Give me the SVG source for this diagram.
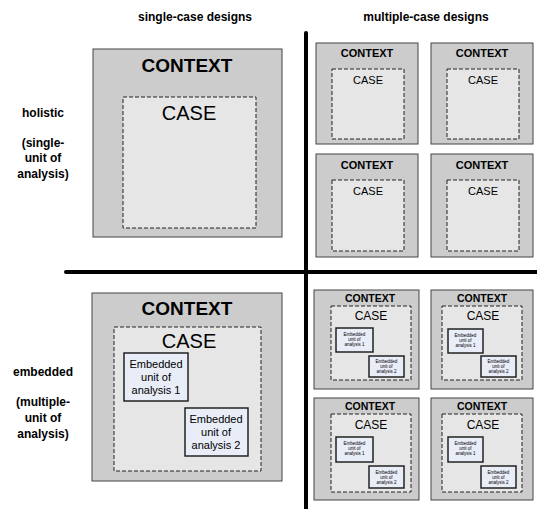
<svg xmlns="http://www.w3.org/2000/svg" width="537" height="509" viewBox="0 0 537 509">
<style>
.ctx{fill:#cccccc;stroke:#444;stroke-width:1}
.case{fill:#e6e6e6;stroke:#222;stroke-width:1;stroke-dasharray:4,2}
.emb{fill:#e8edf7;stroke:#222;stroke-width:1.5}
text{font-family:"Liberation Sans",Arial,sans-serif;text-anchor:middle;fill:#000}
.h{font-weight:bold;font-size:12px}
.bigctx{font-weight:bold;font-size:19px}
.bigcase{font-size:20px}
.sctx{font-weight:bold;font-size:11px}
.ectx{font-weight:bold;font-size:10.5px}
.scase{font-size:11px}
.ecase{font-size:12px}
.et{font-size:11px}
.est{font-size:4.5px}
</style>
<g id="headers">
<text class="h" x="195" y="21">single-case designs</text>
<text class="h" x="426" y="21">multiple-case designs</text>
</g>
<g id="row-labels">
<text class="h" x="43" y="117">holistic</text>
<text class="h" x="43" y="147">(single-</text>
<text class="h" x="43" y="162">unit of</text>
<text class="h" x="43" y="178">analysis)</text>
<text class="h" x="43" y="376">embedded</text>
<text class="h" x="43" y="406">(multiple-</text>
<text class="h" x="43" y="422">unit of</text>
<text class="h" x="43" y="438">analysis)</text>
</g>
<g id="connectors" stroke="#000" stroke-width="4" stroke-linecap="round">
<line x1="306" y1="33" x2="306" y2="509"/>
<line x1="66" y1="272" x2="537" y2="272"/>
</g>
<g id="single-holistic">
<rect class="ctx" x="93" y="49" width="189" height="188"/>
<text class="bigctx" x="187" y="72">CONTEXT</text>
<rect class="case" x="123" y="97" width="133" height="131"/>
<text class="bigcase" x="189" y="120">CASE</text>
</g>
<g id="multi-holistic-1">
<rect class="ctx" x="316" y="43" width="102" height="101"/>
<text class="sctx" x="367" y="57">CONTEXT</text>
<rect class="case" x="332" y="69" width="72" height="70"/>
<text class="scase" x="368" y="84">CASE</text>
</g>
<g id="multi-holistic-2">
<rect class="ctx" x="431" y="43" width="102" height="101"/>
<text class="sctx" x="482" y="57">CONTEXT</text>
<rect class="case" x="447" y="69" width="72" height="70"/>
<text class="scase" x="483" y="84">CASE</text>
</g>
<g id="multi-holistic-3">
<rect class="ctx" x="316" y="154" width="102" height="103"/>
<text class="sctx" x="367" y="169">CONTEXT</text>
<rect class="case" x="332" y="180" width="72" height="71"/>
<text class="scase" x="368" y="195">CASE</text>
</g>
<g id="multi-holistic-4">
<rect class="ctx" x="431" y="154" width="102" height="103"/>
<text class="sctx" x="482" y="169">CONTEXT</text>
<rect class="case" x="447" y="180" width="72" height="71"/>
<text class="scase" x="483" y="195">CASE</text>
</g>
<g id="single-embedded">
<rect class="ctx" x="92" y="293" width="190" height="188"/>
<text class="bigctx" x="187" y="315">CONTEXT</text>
<rect class="case" x="114" y="327" width="147" height="144"/>
<text class="bigcase" x="189" y="348">CASE</text>
<rect class="emb" x="124" y="353" width="64" height="48"/>
<text class="et" x="156" y="368">Embedded</text>
<text class="et" x="156" y="381">unit of</text>
<text class="et" x="156" y="394">analysis 1</text>
<rect class="emb" x="185" y="408" width="63" height="48"/>
<text class="et" x="216" y="423">Embedded</text>
<text class="et" x="216" y="436">unit of</text>
<text class="et" x="216" y="449">analysis 2</text>
</g>
<g id="multi-embedded-1">
<rect class="ctx" x="314" y="290" width="105" height="99"/>
<text class="ectx" x="370" y="302">CONTEXT</text>
<rect class="case" x="331" y="306" width="80" height="74"/>
<text class="ecase" x="371" y="320">CASE</text>
<rect class="emb" x="336" y="328" width="37" height="24"/>
<text class="est" x="354.5" y="336">Embedded</text>
<text class="est" x="354.5" y="341">unit of</text>
<text class="est" x="354.5" y="346">analysis 1</text>
<rect class="emb" x="369" y="356" width="35" height="21"/>
<text class="est" x="386.5" y="363">Embedded</text>
<text class="est" x="386.5" y="368">unit of</text>
<text class="est" x="386.5" y="373">analysis 2</text>
</g>
<g id="multi-embedded-2">
<rect class="ctx" x="431" y="290" width="102" height="99"/>
<text class="ectx" x="482" y="302">CONTEXT</text>
<rect class="case" x="442" y="306" width="80" height="74"/>
<text class="ecase" x="483" y="320">CASE</text>
<rect class="emb" x="448" y="329" width="35" height="24"/>
<text class="est" x="465.5" y="337">Embedded</text>
<text class="est" x="465.5" y="342">unit of</text>
<text class="est" x="465.5" y="347">analysis 1</text>
<rect class="emb" x="481" y="356" width="35" height="21"/>
<text class="est" x="498.5" y="363">Embedded</text>
<text class="est" x="498.5" y="368">unit of</text>
<text class="est" x="498.5" y="373">analysis 2</text>
</g>
<g id="multi-embedded-3">
<rect class="ctx" x="314" y="398" width="105" height="102"/>
<text class="ectx" x="370" y="410">CONTEXT</text>
<rect class="case" x="331" y="414" width="80" height="78"/>
<text class="ecase" x="371" y="429">CASE</text>
<rect class="emb" x="336" y="437" width="37" height="25"/>
<text class="est" x="354.5" y="445">Embedded</text>
<text class="est" x="354.5" y="450">unit of</text>
<text class="est" x="354.5" y="455">analysis 1</text>
<rect class="emb" x="369" y="466" width="35" height="22"/>
<text class="est" x="386.5" y="474">Embedded</text>
<text class="est" x="386.5" y="479">unit of</text>
<text class="est" x="386.5" y="484">analysis 2</text>
</g>
<g id="multi-embedded-4">
<rect class="ctx" x="431" y="398" width="102" height="102"/>
<text class="ectx" x="482" y="410">CONTEXT</text>
<rect class="case" x="442" y="414" width="80" height="78"/>
<text class="ecase" x="483" y="429">CASE</text>
<rect class="emb" x="448" y="437" width="35" height="25"/>
<text class="est" x="465.5" y="445">Embedded</text>
<text class="est" x="465.5" y="450">unit of</text>
<text class="est" x="465.5" y="455">analysis 1</text>
<rect class="emb" x="481" y="466" width="35" height="22"/>
<text class="est" x="498.5" y="474">Embedded</text>
<text class="est" x="498.5" y="479">unit of</text>
<text class="est" x="498.5" y="484">analysis 2</text>
</g>
</svg>
